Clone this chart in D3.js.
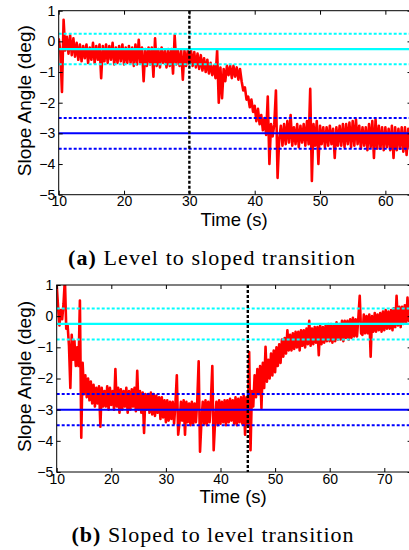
<!DOCTYPE html>
<html>
<head>
<meta charset="utf-8">
<script src="https://cdn.jsdelivr.net/npm/d3@7"></script>
<style>
  body { margin: 0; background: #fff; }
  svg { display: block; }
</style>
</head>
<body>
<div id="chart"></div>
<script>
// samples every 0.25 s starting at t = 10 s
const t0 = 10;
const dt = 0.25;

// (a) level to sloped, 10..64 s
const levelToSloped = [
  0.1, -0.3, -1.65, 0.7,
  -0.3, 0.15, -0.4, 0.2,
  -0.45, 0.1, -0.5, -0.05,
  -0.6, -0.1, -0.65, -0.15,
  -0.55, -0.1, -0.7, -0.2,
  -0.6, -0.05, -0.7, -0.15,
  -0.6, -0.1, -1.2, -0.15,
  -0.65, -0.1, -0.7, -0.15,
  -0.6, -0.05, -0.75, -0.2,
  -0.7, -0.15, -0.65, -0.1,
  -0.75, -0.2, -0.7, -0.15,
  -0.7, -0.2, -0.8, -0.1,
  -0.75, 0.05, -0.7, -0.2,
  -1.3, -0.25, -0.8, -0.2,
  -0.75, -0.2, -1.15, 0.1,
  -0.8, -0.25, -0.85, -0.2,
  -0.7, -0.3, -0.85, -0.25,
  -0.8, -0.25, -1.05, 0.2,
  -0.75, -0.3, -0.8, -0.3,
  -1.25, -0.3, -0.8, -0.3,
  -0.75, -0.3, -0.8, -0.35,
  -0.85, -0.4, -0.9, -0.45,
  -0.95, -0.55, -1.0, -0.6,
  -1.05, -0.7, -1.1, -0.8,
  -1.2, -0.3, -2.0, -0.85,
  -1.85, -0.9, -1.3, -0.8,
  -1.1, -0.8, -1.2, -0.8,
  -1.15, -0.85, -1.25, -0.9,
  -1.3, -1.6, -1.5, -1.9,
  -1.8, -2.15, -1.9, -2.3,
  -2.1, -2.6, -2.2, -2.7,
  -2.4, -2.9, -2.5, -3.05,
  -1.8, -4.0, -2.7, -3.1,
  -2.7, -1.6, -4.45, -3.2,
  -2.75, -3.4, -2.7, -3.35,
  -2.6, -3.3, -2.4, -3.4,
  -2.8, -3.35, -2.7, -3.45,
  -2.75, -3.3, -2.7, -3.4,
  -2.6, -3.35, -1.55, -4.55,
  -2.7, -3.4, -2.6, -4.0,
  -2.75, -3.35, -2.8, -3.45,
  -2.8, -3.4, -2.75, -3.35,
  -2.85, -3.8, -2.8, -3.4,
  -2.75, -3.4, -2.7, -3.45,
  -2.7, -3.35, -2.65, -3.45,
  -2.6, -3.4, -2.55, -3.35,
  -2.75, -3.5, -2.8, -3.4,
  -2.8, -3.55, -2.7, -3.45,
  -2.6, -3.8, -2.55, -3.5,
  -2.75, -3.5, -2.8, -3.55,
  -2.8, -3.45, -2.85, -3.55,
  -2.75, -3.8, -2.8, -3.55,
  -2.85, -3.5, -2.8, -3.6,
  -2.8, -3.7, -2.85, -3.5,
  -2.9
];

// (b) sloped to level, 10..75 s
const slopedToLevel = [
  1.0, 0.3, -0.3, 0.2,
  -0.1, 0.4, 1.2, -0.4,
  -0.3, -0.95, -2.3, -0.6,
  -1.4, -0.8, -1.6, -1.0,
  -1.6, 0.5, -3.9, -1.5,
  -2.5, -1.9, -2.6, -2.0,
  -2.7, -2.1, -2.8, -2.2,
  -2.9, -2.3, -2.8, -2.25,
  -3.55, -2.3, -2.9, -2.4,
  -2.9, -2.25, -3.0, -2.3,
  -2.85, -2.4, -3.0, -1.7,
  -2.9, -2.3, -3.1, -2.35,
  -3.0, -2.4, -2.9, -2.3,
  -3.1, -2.4, -3.0, -2.35,
  -2.9, -2.3, -3.05, -1.75,
  -3.0, -2.4, -3.1, -2.45,
  -3.75, -2.5, -3.0, -2.5,
  -3.1, -2.45, -3.15, -2.5,
  -3.2, -2.55, -3.1, -2.6,
  -3.3, -2.6, -3.25, -2.7,
  -3.4, -2.7, -3.35, -2.75,
  -3.3, -2.75, -3.45, -2.8,
  -1.9, -3.8, -3.4, -2.75,
  -3.35, -2.7, -3.8, -2.75,
  -3.4, -2.8, -3.5, -2.75,
  -3.45, -2.8, -3.4, -2.7,
  -1.45, -4.35, -3.4, -2.75,
  -3.45, -2.7, -3.5, -2.75,
  -3.4, -2.7, -1.6, -4.3,
  -3.4, -2.75, -3.5, -2.7,
  -3.45, -2.75, -3.4, -2.7,
  -3.5, -2.7, -3.4, -2.65,
  -3.35, -2.7, -3.45, -2.6,
  -3.5, -2.65, -3.4, -2.6,
  -3.45, -2.55, -3.8, -2.6,
  -3.5, -1.15, -4.3, -2.4,
  -2.9, -1.9, -2.6, -1.7,
  -2.5, -1.6, -2.95, -1.5,
  -2.3, -0.98, -2.1, -1.4,
  -2.0, -1.2, -1.9, -1.1,
  -1.8, -1.0, -1.6, -0.9,
  -1.5, -0.75, -1.3, -0.7,
  -1.2, -0.45, -1.1, -0.6,
  -1.1, -0.55, -1.05, -0.5,
  -1.0, -0.5, -1.1, -0.45,
  -0.95, -0.45, -1.0, -0.4,
  -0.9, -0.15, -0.95, -0.4,
  -0.9, -0.35, -0.85, -0.35,
  -1.25, -0.3, -0.9, -0.35,
  -0.85, -0.3, -0.8, -0.25,
  -0.8, -0.25, -0.85, -0.3,
  -0.8, -0.2, -0.75, -0.25,
  -0.75, -0.15, -0.8, -0.15,
  -0.7, -0.15, -0.75, -0.1,
  -0.7, -0.05, -0.65, -0.1,
  -0.65, -0.05, 0.65, -0.55,
  -0.6, 0.05, -0.55, 0.0,
  -0.55, 0.05, -1.3, 0.0,
  -0.5, 0.1, -0.5, 0.05,
  -0.45, 0.1, -0.5, 0.15,
  -0.45, 0.2, -0.4, 0.15,
  -0.4, 0.2, -0.45, 0.25,
  -0.35, 0.65, -0.3, 0.3,
  -0.35, 0.3, -0.25, 0.35,
  -0.2, 0.6, -0.15, 0.4,
  -0.05
];

// reference bands: level (mean, +/- 0.5) and sloped (mean, +/- 0.5)
const levelMean = -0.25;
const levelBounds = [0.25, -0.75];
const slopeMean = -3;
const slopeBounds = [-2.5, -3.5];

const yTicks = [-5, -4, -3, -2, -1, 0, 1];
const xTicksA = [10, 20, 30, 40, 50, 60];
const xTicksB = [10, 20, 30, 40, 50, 60, 70];
const xDomainA = [10, 64];
const xDomainB = [10, 75];
const transitionA = 30;
const transitionB = 45;

const W = 409, H = 550;
const svg = d3.select("#chart").append("svg")
  .attr("width", W).attr("height", H);

const axisFont = "'Liberation Sans', Arial, sans-serif";
const captionFont = "'Liberation Serif', 'Times New Roman', serif";
const fmt = d3.format("d");

function panel(cfg, idx) {
  const x = d3.scaleLinear().domain(cfg.xDomain).range([cfg.left, cfg.right]);
  const y = d3.scaleLinear().domain([-5, 1]).range([cfg.bottom, cfg.top]);
  const g = svg.append("g");

  const clipId = "clip" + idx;
  g.append("clipPath").attr("id", clipId)
    .append("rect")
    .attr("x", cfg.left).attr("y", cfg.top)
    .attr("width", cfg.right - cfg.left).attr("height", cfg.bottom - cfg.top);

  const plot = g.append("g").attr("clip-path", `url(#${clipId})`);

  const line = d3.line()
    .x((d, i) => x(t0 + i * dt))
    .y(d => y(d));

  plot.append("path")
    .datum(cfg.data)
    .attr("fill", "none")
    .attr("stroke", "#ff0000")
    .attr("stroke-width", 2.6)
    .attr("stroke-linejoin", "round")
    .attr("d", line);

  // reference lines
  const hline = (v, color, dashed, w) => {
    plot.append("line")
      .attr("x1", cfg.left).attr("x2", cfg.right)
      .attr("y1", y(v)).attr("y2", y(v))
      .attr("stroke", color)
      .attr("stroke-width", w)
      .attr("stroke-dasharray", dashed ? "3,2" : null);
  };
  levelBounds.forEach(v => hline(v, "#00ffff", true, 2));
  hline(levelMean, "#00ffff", false, 2.2);
  slopeBounds.forEach(v => hline(v, "#0000ff", true, 2));
  hline(slopeMean, "#0000ff", false, 2);

  plot.append("line")
    .attr("x1", x(cfg.transition)).attr("x2", x(cfg.transition))
    .attr("y1", cfg.top).attr("y2", cfg.bottom)
    .attr("stroke", "#000")
    .attr("stroke-width", 2.4)
    .attr("stroke-dasharray", "3,2");

  // axes (MATLAB box with inward ticks)
  const styleAxis = sel => {
    sel.select(".domain").remove();
    sel.selectAll(".tick line").attr("stroke", "#000");
    sel.selectAll("text")
      .attr("font-family", axisFont)
      .attr("font-size", 14)
      .attr("fill", "#000");
  };

  g.append("g")
    .attr("transform", `translate(0,${cfg.bottom})`)
    .call(d3.axisBottom(x).tickValues(cfg.xTicks).tickFormat(fmt).tickSize(-4).tickPadding(1.6))
    .call(styleAxis);
  g.append("g")
    .attr("transform", `translate(0,${cfg.top})`)
    .call(d3.axisTop(x).tickValues(cfg.xTicks).tickSize(-4).tickFormat(""))
    .call(styleAxis);
  g.append("g")
    .attr("transform", `translate(${cfg.left},0)`)
    .call(d3.axisLeft(y).tickValues(yTicks).tickFormat(fmt).tickSize(-4).tickPadding(3.5))
    .call(styleAxis);
  g.append("g")
    .attr("transform", `translate(${cfg.right},0)`)
    .call(d3.axisRight(y).tickValues(yTicks).tickSize(-4).tickFormat(""))
    .call(styleAxis);

  g.append("rect")
    .attr("x", cfg.left).attr("y", cfg.top)
    .attr("width", cfg.right - cfg.left).attr("height", cfg.bottom - cfg.top)
    .attr("fill", "none").attr("stroke", "#000").attr("stroke-width", 1);

  g.append("text")
    .attr("x", (cfg.left + cfg.right) / 2 - 1)
    .attr("y", cfg.bottom + cfg.xLabelOffset)
    .attr("text-anchor", "middle")
    .attr("font-family", axisFont)
    .attr("font-size", 18.5)
    .text("Time (s)");

  g.append("text")
    .attr("transform", `translate(31,${(cfg.top + cfg.bottom) / 2 - 2}) rotate(-90)`)
    .attr("text-anchor", "middle")
    .attr("font-family", axisFont)
    .attr("font-size", 19)
    .text("Slope Angle (deg)");

  const cap = g.append("text")
    .attr("x", cfg.captionX)
    .attr("y", cfg.captionY)
    .attr("font-family", captionFont)
    .attr("font-size", 22)
    .attr("textLength", cfg.captionW)
    .attr("lengthAdjust", "spacing");
  cap.append("tspan").attr("font-weight", "bold").text(cfg.tag);
  cap.append("tspan").text(" " + cfg.caption);
}

panel({
  left: 58.7, right: 411.5, top: 10.7, bottom: 194.7,
  xDomain: xDomainA, xTicks: xTicksA, data: levelToSloped,
  transition: transitionA, xLabelOffset: 31,
  captionX: 68, captionY: 265, captionW: 287,
  tag: "(a)", caption: "Level to sloped transition"
}, 0);

panel({
  left: 56.7, right: 411.6, top: 285, bottom: 472,
  xDomain: xDomainB, xTicks: xTicksB, data: slopedToLevel,
  transition: transitionB, xLabelOffset: 31.3,
  captionX: 71.5, captionY: 541.7, captionW: 282,
  tag: "(b)", caption: "Sloped to level transition"
}, 1);
</script>
</body>
</html>
